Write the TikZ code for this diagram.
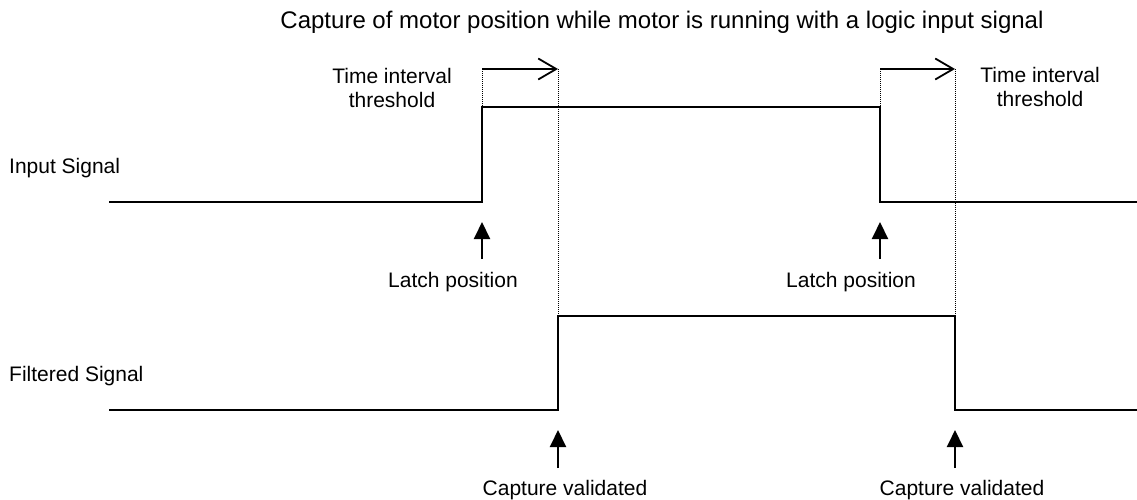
\documentclass[tikz,border=0pt]{standalone}
\usepackage{fontspec}
\setmainfont{Liberation Sans}
\usetikzlibrary{arrows.meta}
\begin{document}
\begin{tikzpicture}[x=1pt,y=-1pt,
  sig/.style={line width=2pt, line join=miter},
  dots/.style={line width=1pt, dash pattern=on 1pt off 1pt},
  thr/.style={line width=1.8pt,-{Straight Barb[length=18pt,width=21pt,line width=1.8pt]}},
  evt/.style={line width=2pt,-{Triangle[length=17pt,width=16pt]}},
  lbl/.style={font=\fontsize{21}{24}\selectfont, inner sep=0pt, align=center},
  ttl/.style={font=\fontsize{24}{28}\selectfont, inner sep=0pt}]
\useasboundingbox (0,0) rectangle (1137,500);
% key coordinates
\coordinate (iA) at (109,202);
\coordinate (iR0) at (482,202);
\coordinate (iR1) at (482,107);
\coordinate (iF1) at (880,107);
\coordinate (iF0) at (880,202);
\coordinate (iB) at (1137,202);
\coordinate (fA) at (109,410);
\coordinate (fR0) at (558,410);
\coordinate (fR1) at (558,316);
\coordinate (fF1) at (955,316);
\coordinate (fF0) at (955,410);
\coordinate (fB) at (1137,410);
\coordinate (t1a) at (482,69);
\coordinate (t1b) at (558,69);
\coordinate (t2a) at (880,69);
\coordinate (t2b) at (955,69);
\coordinate (l1s) at (482,259);
\coordinate (l1e) at (482,222);
\coordinate (l2s) at (880,259);
\coordinate (l2e) at (880,222);
\coordinate (c1s) at (558,468);
\coordinate (c1e) at (558,430);
\coordinate (c2s) at (955,468);
\coordinate (c2e) at (955,430);
% signals
\draw[sig] (iA) -- (iR0) -- (iR1) -- (iF1) -- (iF0) -- (iB);
\draw[sig] (fA) -- (fR0) -- (fR1) -- (fF1) -- (fF0) -- (fB);
% dotted guides
\draw[dots] (t1a) -- (iR1);
\draw[dots] (t1b) -- (fR1);
\draw[dots] (t2a) -- (iF1);
\draw[dots] (t2b) -- (fF1);
% threshold arrows
\draw[thr] (t1a) -- (t1b);
\draw[thr] (t2a) -- (t2b);
% event arrows
\draw[evt] (l1s) -- (l1e);
\draw[evt] (l2s) -- (l2e);
\draw[evt] (c1s) -- (c1e);
\draw[evt] (c2s) -- (c2e);
% labels
\node[ttl] (title) at (662,22) {Capture of motor position while motor is running with a logic input signal};
\node[lbl] (thr1) at (392,88) {Time interval\\threshold};
\node[lbl] (thr2) at (1040,87) {Time interval\\threshold};
\node[lbl, anchor=west] (insig) at (9,168) {Input Signal};
\node[lbl, anchor=west] (fsig) at (9,376) {Filtered Signal};
\node[lbl] (lat1) at (453,282) {Latch position};
\node[lbl] (lat2) at (851,282) {Latch position};
\node[lbl] (cap1) at (565,490) {Capture validated};
\node[lbl] (cap2) at (962,490) {Capture validated};
\end{tikzpicture}
\end{document}
